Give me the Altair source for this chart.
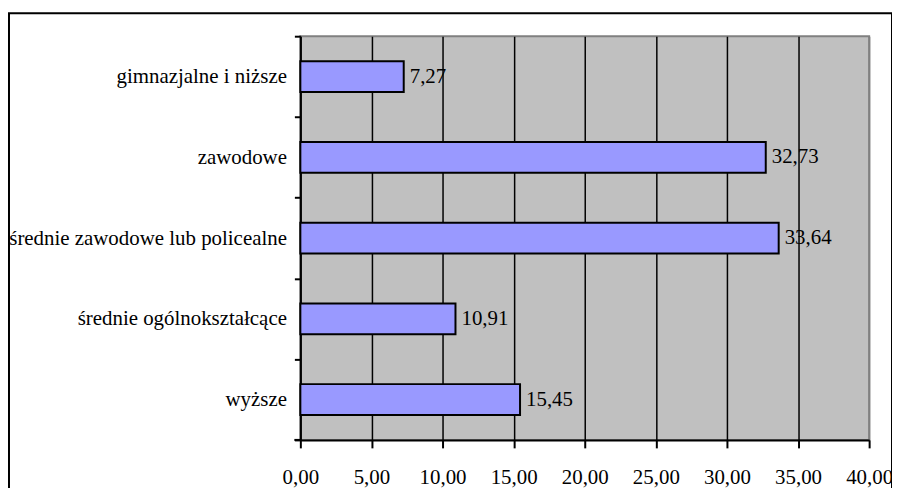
import altair as alt
import pandas as pd

categories = ["gimnazjalne i niższe", "zawodowe", "średnie zawodowe lub policealne",
              "średnie ogólnokształcące", "wyższe"]
values = [7.27, 32.73, 33.64, 10.91, 15.45]
x_ticks = [0, 5, 10, 15, 20, 25, 30, 35, 40]

df = pd.DataFrame({"kategoria": categories, "wartosc": values})
df["etykieta"] = [f"{v:.2f}".replace(".", ",") for v in values]

W, H = 572, 406
FONT = "Liberation Serif"

xscale = alt.Scale(domain=[0, 40], nice=False, zero=True)
yscale = alt.Scale(domain=categories, paddingInner=0, paddingOuter=0)

bars = alt.Chart(df).mark_bar(
    size=31, fill="#9999FF", stroke="black", strokeWidth=2
).encode(
    x=alt.X("wartosc:Q", scale=xscale, axis=alt.Axis(
        values=x_ticks, title=None,
        labelExpr="replace(format(datum.value, '.2f'), '.', ',')",
        labelFont=FONT, labelFontSize=21, labelColor="black",
        labelFlush=False, labelOverlap=False, labelBound=False,
        labelPadding=19, tickSize=8, tickWidth=2, tickColor="black",
        domainColor="black", domainWidth=2,
        grid=True,
        gridColor=alt.condition("datum.value >= 40", alt.value("#808080"), alt.value("black")),
        gridWidth=1.5,
    )),
    y=alt.Y("kategoria:N", scale=yscale, sort=categories, axis=alt.Axis(
        title=None, labelFont=FONT, labelFontSize=21, labelColor="black",
        labelPadding=8, labelLimit=0, tickSize=6, tickWidth=2, tickColor="black",
        tickBand="extent", domainColor="black", domainWidth=2, grid=False,
    )),
)

labels = alt.Chart(df).mark_text(
    align="left", baseline="middle", dx=6, font=FONT, fontSize=21, color="black"
).encode(
    x=alt.X("wartosc:Q", scale=xscale),
    y=alt.Y("kategoria:N", scale=yscale, sort=categories),
    text="etykieta:N",
)

one = pd.DataFrame({"k": [0]})
frame = alt.Chart(one).mark_rect(fill=None, stroke="black", strokeWidth=2).encode(
    x=alt.value(-293), x2=alt.value(595), y=alt.value(-23), y2=alt.value(700)
)
corner_tick = alt.Chart(one).mark_rule(color="black", strokeWidth=2).encode(
    x=alt.value(-6), x2=alt.value(0), y=alt.value(H), y2=alt.value(H)
)

chart = alt.layer(bars, labels, corner_tick, frame).properties(
    width=W, height=H,
    autosize=alt.AutoSizeParams(type="none"),
    padding={"left": 294, "top": 27, "right": 23, "bottom": 47},
).configure(
    background="white",
    font=FONT,
    view=alt.ViewConfig(fill="#C0C0C0", stroke="#808080", strokeWidth=2),
).configure_axis(
    labelFont=FONT
).configure_text(
    font=FONT
)

chart.save("out.html", embed_options={"renderer": "svg", "actions": False})
